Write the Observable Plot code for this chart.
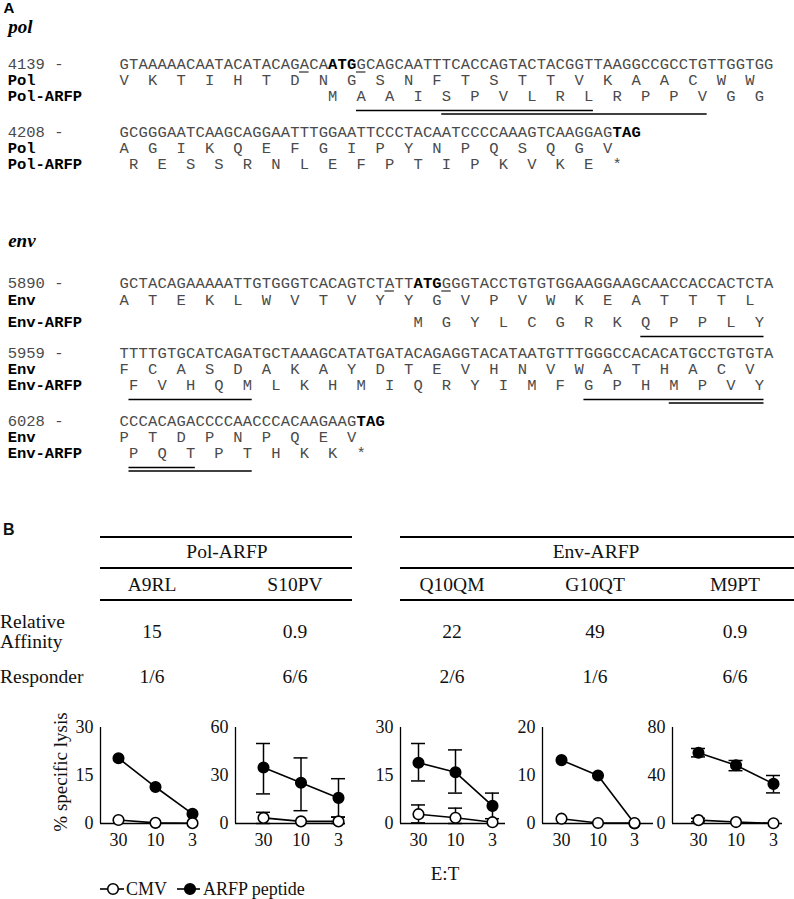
<!DOCTYPE html>
<html><head><meta charset="utf-8">
<script src="https://cdn.jsdelivr.net/npm/d3@7"></script>
<script src="https://cdn.jsdelivr.net/npm/@observablehq/plot@0.6"></script>
<style>
html,body{margin:0;padding:0;background:#fff;}
#fig{position:relative;width:794px;height:899px;overflow:hidden;font-family:"Liberation Serif",serif;color:#111;}
.t{position:absolute;transform:translate(-50%,-50%);white-space:nowrap;font-size:19.5px;line-height:1;}
.tl{position:absolute;transform:translate(0,-50%);white-space:nowrap;font-size:19.5px;line-height:1;}
.hl{position:absolute;background:#000;}
</style></head><body><div id="fig"></div>
<script>
// ---------------- DATA ----------------
// Panel A sequences
const polSeq1 = "GTAAAAACAATACATACAGACAATGGCAGCAATTTCACCAGTACTACGGTTAAGGCCGCCTGTTGGTGG";
const polAA1 = "VKTIHTDNGSNFTSTTVKAACWW";
const polARFP1 = "MAAISPVLRLRPPVGG";
const polSeq2 = "GCGGGAATCAAGCAGGAATTTGGAATTCCCTACAATCCCCAAAGTCAAGGAGTAG";
const polAA2 = "AGIKQEFGIPYNPQSQGV";
const polARFP2 = "RESSRNLEFPTIPKVKE*";
const envSeq1 = "GCTACAGAAAAATTGTGGGTCACAGTCTATTATGGGGTACCTGTGTGGAAGGAAGCAACCACCACTCTA";
const envAA1 = "ATEKLWVTVYYGVPVWKEATTTL";
const envARFP1 = "MGYLCGRKQPPLY";
const envSeq2 = "TTTTGTGCATCAGATGCTAAAGCATATGATACAGAGGTACATAATGTTTGGGCCACACATGCCTGTGTA";
const envAA2 = "FCASDAKAYDTEVHNVWATHACV";
const envARFP2 = "FVHQMLKHMIQRYIMFGPHMPVY";
const envSeq3 = "CCCACAGACCCCAACCCACAAGAAGTAG";
const envAA3 = "PTDPNPQEV";
const envARFP3 = "PQTPTHKK*";
const positions = ["4139 -","4208 -","5890 -","5959 -","6028 -"];

// Panel B table
const groups = ["Pol-ARFP","Env-ARFP"];
const epitopes = ["A9RL","S10PV","Q10QM","G10QT","M9PT"];
const affinity = ["15","0.9","22","49","0.9"];
const responder = ["1/6","6/6","2/6","1/6","6/6"];

// Panel B lysis curves (E:T 30, 10, 3)
const etLabels = ["30","10","3"];
const yMax = [30,60,30,20,80];
const arfp   = [[20.4,11.4,3.0],[35,25.5,16],[19,16,5.5],[13.2,10,0],[59,48.5,33]];
const arfpLo = [[null,null,null],[18.5,8,4],[13.3,9.5,1.5],[null,null,null],[55.5,44,25.5]];
const arfpHi = [[null,null,null],[50,41,28],[25,23,9.5],[null,null,null],[62.5,52.5,40]];
const cmv    = [[1.1,0.2,0.1],[3.5,1.3,1.3],[2.9,1.8,0.4],[1.0,0.1,0.1],[2.8,1.2,0.2]];
const cmvLo  = [[null,null,null],[0,null,0],[0.2,0,null],[null,null,null],[1.4,null,null]];
const cmvHi  = [[null,null,null],[7,null,4],[5.8,4.8,null],[null,null,null],[4.4,null,null]];

// ---------------- LAYOUT ----------------
const fig = document.getElementById("fig");
const blocks = [
  {seq: polSeq1, aa: polAA1, aaStart: 0, arfp: polARFP1, arfpStart: 22, names: ["Pol","Pol-ARFP"], bold: [22,23,24], und: [19,25], rows: [64,80,96]},
  {seq: polSeq2, aa: polAA2, aaStart: 0, arfp: polARFP2, arfpStart: 1, names: ["Pol","Pol-ARFP"], bold: [52,53,54], und: [], rows: [132,148,164]},
  {seq: envSeq1, aa: envAA1, aaStart: 0, arfp: envARFP1, arfpStart: 31, names: ["Env","Env-ARFP"], bold: [31,32,33], und: [28,34], rows: [283,300,322]},
  {seq: envSeq2, aa: envAA2, aaStart: 0, arfp: envARFP2, arfpStart: 1, names: ["Env","Env-ARFP"], bold: [], und: [], rows: [353,369,385]},
  {seq: envSeq3, aa: envAA3, aaStart: 0, arfp: envARFP3, arfpStart: 1, names: ["Env","Env-ARFP"], bold: [25,26,27], und: [], rows: [421,437,453]}
];
// epitope underlines: block, first residue, last residue, level
const epiLines = [
  {b:0, r0:1, r1:9, lv:0}, {b:0, r0:4, r1:13, lv:1},
  {b:2, r0:8, r1:12, lv:0}, {b:3, r0:0, r1:4, lv:0},
  {b:3, r0:16, r1:22, lv:0}, {b:4, r0:0, r1:2, lv:0},
  {b:3, r0:19, r1:22, lv:1}, {b:4, r0:0, r1:4, lv:1}
];
const labelCol = -11.8;
const regChars = [], boldChars = [], numLabels = [], nameLabels = [], unds = [];
blocks.forEach((bk, bi) => {
  const bs = new Set(bk.bold);
  [...bk.seq].forEach((ch, i) => (bs.has(i) ? boldChars : regChars).push({x: i + 0.5, y: bk.rows[0], ch}));
  [...bk.aa].forEach((ch, k) => regChars.push({x: bk.aaStart + 3*k + 0.5, y: bk.rows[1], ch}));
  [...bk.arfp].forEach((ch, k) => regChars.push({x: bk.arfpStart + 3*k + 0.5, y: bk.rows[2], ch}));
  numLabels.push({x: labelCol, y: bk.rows[0], t: positions[bi]});
  nameLabels.push({x: labelCol, y: bk.rows[1], t: bk.names[0]});
  nameLabels.push({x: labelCol, y: bk.rows[2], t: bk.names[1]});
  bk.und.forEach(i => unds.push({x1: i, x2: i + 1, y: bk.rows[0] + 7.5, w: 1}));
});
epiLines.forEach(e => {
  const bk = blocks[e.b];
  unds.push({x1: bk.arfpStart + 3*e.r0, x2: bk.arfpStart + 3*e.r1 + 1, y: bk.rows[2] + 14 + e.lv*3.5, w: 1.6});
});
const headings = [
  {x: -12.25, y: 8, t: "A", f: "Liberation Sans", s: 15, st: "normal"},
  {x: -11.75, y: 26, t: "pol", f: "Liberation Serif", s: 19, st: "italic"},
  {x: -11.75, y: 240, t: "env", f: "Liberation Serif", s: 19, st: "italic"}
];
const monoSize = 15.5;

const panelA = Plot.plot({
  width: 794, height: 480, margin: 0,
  x: {domain: [0, 69], range: [119, 773], axis: null},
  y: {domain: [0, 480], range: [0, 480], axis: null},
  style: {background: "transparent"},
  marks: [
    Plot.text(regChars, {x: "x", y: "y", text: "ch", fontFamily: "Liberation Mono", fontSize: monoSize, fill: "#4a4a4a"}),
    Plot.text(boldChars, {x: "x", y: "y", text: "ch", fontFamily: "Liberation Mono", fontSize: monoSize, fontWeight: "bold", fill: "#000"}),
    Plot.text(numLabels, {x: "x", y: "y", text: "t", textAnchor: "start", fontFamily: "Liberation Mono", fontSize: monoSize, fill: "#4a4a4a"}),
    Plot.text(nameLabels, {x: "x", y: "y", text: "t", textAnchor: "start", fontFamily: "Liberation Mono", fontSize: monoSize, fontWeight: "bold", fill: "#000"}),
    Plot.ruleY(unds, {x1: "x1", x2: "x2", y: "y", stroke: "#000", strokeWidth: "w"}),
    ...headings.map(h => Plot.text([h], {x: "x", y: "y", text: "t", textAnchor: "start", fontFamily: h.f, fontSize: h.s, fontStyle: h.st, fontWeight: "bold", fill: "#000"}))
  ]
});
panelA.style.position = "absolute"; panelA.style.left = "0px"; panelA.style.top = "0px";
fig.appendChild(panelA);

// ---------------- Panel B: table ----------------
function addText(txt, x, y, cls = "t", size = 19.5, extra = "") {
  const d = document.createElement("div");
  d.className = cls; d.textContent = txt;
  d.style.left = x + "px"; d.style.top = y + "px"; d.style.fontSize = size + "px";
  if (extra) d.style.cssText += extra;
  fig.appendChild(d);
}
function addLine(x1, x2, y, h) {
  const d = document.createElement("div");
  d.className = "hl";
  d.style.left = x1 + "px"; d.style.width = (x2 - x1) + "px";
  d.style.top = (y - h/2) + "px"; d.style.height = h + "px";
  fig.appendChild(d);
}
addText("B", 3, 530, "tl", 16, "font-family:'Liberation Sans';font-weight:bold;");
const colX = [152, 295, 452, 595, 735];
const groupX = [227, 596];
const groupSpan = [[100, 352], [400, 794]];
groups.forEach((g, i) => {
  addLine(groupSpan[i][0], groupSpan[i][1], 537, 2);
  addLine(groupSpan[i][0], groupSpan[i][1], 568, 1.3);
  addLine(groupSpan[i][0], groupSpan[i][1], 600, 2);
  addText(g, groupX[i], 552);
});
epitopes.forEach((e, i) => {
  addText(e, colX[i], 585);
  addText(affinity[i], colX[i], 632);
  addText(responder[i], colX[i], 677);
});
addText("Relative", 0, 622, "tl");
addText("Affinity", 0, 642, "tl");
addText("Responder", 0, 677, "tl");

// ---------------- Panel B: lysis charts ----------------
const axisX = [100, 235, 400, 542, 672];
const endX  = [197, 345, 505, 653, 782];
const pt0   = [118, 263, 418, 561, 698];
const pt2   = [192, 338, 492, 634, 773];
const chTop = 700, mT = 27, mB = 37, plotH = 96, mL = 40, mR = 4;
const chH = mT + plotH + mB;
const capPx = 7;

epitopes.forEach((ep, c) => {
  const left = axisX[c] - mL;
  const width = endX[c] - left + mR;
  const unit = (pt2[c] - pt0[c]) / 2;
  const axisVal = (axisX[c] - pt0[c]) / unit;
  const cap = capPx / unit;
  const A = etLabels.map((l, i) => ({x: i, y: arfp[c][i], lo: arfpLo[c][i], hi: arfpHi[c][i]}));
  const C = etLabels.map((l, i) => ({x: i, y: cmv[c][i], lo: cmvLo[c][i], hi: cmvHi[c][i]}));
  const errs = [...A, ...C].filter(d => d.lo != null);
  const caps = [];
  errs.forEach(d => { caps.push({x1: d.x - cap, x2: d.x + cap, y: d.hi}); caps.push({x1: d.x - cap, x2: d.x + cap, y: d.lo}); });
  const p = Plot.plot({
    width, height: chH,
    marginLeft: mL, marginRight: mR, marginTop: mT, marginBottom: mB,
    x: {domain: [0, 2], range: [pt0[c] - left, pt2[c] - left]},
    y: {domain: [0, yMax[c]]},
    style: {fontFamily: "Liberation Serif", fontSize: "18px", color: "#111", background: "transparent", overflow: "visible"},
    marks: [
      Plot.ruleX([axisVal], {stroke: "#000", strokeWidth: 1.3}),
      Plot.ruleY([0], {stroke: "#000", strokeWidth: 1.3}),
      Plot.axisY({ticks: [0, yMax[c]/2, yMax[c]], tickSize: 0, tickPadding: 7, label: null, fontSize: 18}),
      Plot.axisX({ticks: [0, 1, 2], tickFormat: i => etLabels[i], tickSize: 0, tickPadding: 10, label: null, fontSize: 18}),
      Plot.ruleX(errs, {x: "x", y1: "lo", y2: "hi", stroke: "#000", strokeWidth: 1.5}),
      Plot.ruleY(caps, {x1: "x1", x2: "x2", y: "y", stroke: "#000", strokeWidth: 1.5}),
      Plot.line(A, {x: "x", y: "y", stroke: "#000", strokeWidth: 1.6}),
      Plot.dot(A, {x: "x", y: "y", r: 5.3, fill: "#000", stroke: "#000"}),
      Plot.line(C, {x: "x", y: "y", stroke: "#000", strokeWidth: 1.6}),
      Plot.dot(C, {x: "x", y: "y", r: 5.3, fill: "#fff", stroke: "#000", strokeWidth: 1.6})
    ]
  });
  p.style.position = "absolute"; p.style.left = left + "px"; p.style.top = chTop + "px";
  fig.appendChild(p);
});

addText("% specific lysis", 60, 772, "t", 19, "transform:translate(-50%,-50%) rotate(-90deg);");
addText("E:T", 445, 873, "t", 19);

// legend
const lg = d3.create("svg").attr("width", 330).attr("height", 22)
  .style("position", "absolute").style("left", "90px").style("top", "878px");
const legendItems = [
  {label: "CMV", fill: "#fff", x0: 100, cx: 113, x1: 124, tx: 126},
  {label: "ARFP peptide", fill: "#000", x0: 177, cx: 190, x1: 200, tx: 203}
];
legendItems.forEach(it => {
  lg.append("line").attr("x1", it.x0 - 90).attr("x2", it.x1 - 90).attr("y1", 11).attr("y2", 11).attr("stroke", "#000").attr("stroke-width", 1.6);
  lg.append("circle").attr("cx", it.cx - 90).attr("cy", 11).attr("r", 5.3).attr("fill", it.fill).attr("stroke", "#000").attr("stroke-width", 1.6);
  lg.append("text").attr("x", it.tx - 90).attr("y", 11).attr("dy", "0.35em").attr("font-family", "Liberation Serif").attr("font-size", 18).attr("fill", "#111").text(it.label);
});
fig.appendChild(lg.node());
</script></body></html>
